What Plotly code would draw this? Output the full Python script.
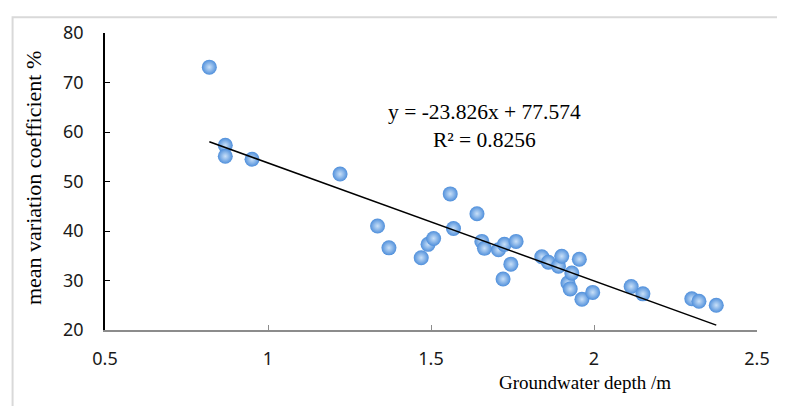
import plotly.graph_objects as go

# Data
depth = [0.820, 0.869, 0.869, 0.951, 1.221, 1.336, 1.371, 1.470, 1.491, 1.508,
         1.559, 1.569, 1.641, 1.656, 1.664, 1.707, 1.721, 1.725, 1.745, 1.761,
         1.840, 1.860, 1.891, 1.901, 1.920, 1.927, 1.932, 1.955, 1.963, 1.996,
         2.114, 2.150, 2.300, 2.322, 2.375]
cv = [73.1, 57.3, 55.1, 54.5, 51.5, 41.0, 36.6, 34.6, 37.3, 38.5,
      47.5, 40.5, 43.5, 37.9, 36.5, 36.2, 30.3, 37.3, 33.3, 37.9,
      34.8, 33.7, 32.9, 34.9, 29.5, 28.3, 31.5, 34.3, 26.2, 27.6,
      28.8, 27.3, 26.3, 25.8, 25.0]
slope = -23.826
intercept = 77.574
r2 = 0.8256

x_ticks = [0.5, 1, 1.5, 2, 2.5]
x_tick_text = ["0.5", "1", "1.5", "2", "2.5"]
y_ticks = [20, 30, 40, 50, 60, 70, 80]

# page body has an 8px default margin; compensate so the plot lands where the reference has it
OFF = 8
L, R, T, B = 104.5 - OFF, 785 - 757 + OFF, 30 - OFF, 406 - 330 + OFF
PW, PH = 757 - 104.5, 330 - 30

fig = go.Figure()

fig.add_trace(go.Scatter(
    x=depth, y=cv, mode="markers",
    marker=dict(size=15, color="#4f8fdb",
                gradient=dict(type="radial", color="#c9e0f8"),
                line=dict(width=0)),
    showlegend=False, hoverinfo="x+y"))

x_line = [min(depth), max(depth)]
y_line = [slope * v + intercept for v in x_line]
fig.add_trace(go.Scatter(
    x=x_line, y=y_line, mode="lines",
    line=dict(color="black", width=1.5),
    showlegend=False, hoverinfo="skip"))

tick_font = dict(family="Noto Sans, DejaVu Sans, sans-serif", size=18, color="#1a1a1a")
serif = "Liberation Serif, Times New Roman, serif"

fig.update_layout(
    width=785, height=406,
    margin=dict(l=L, r=R, t=T, b=B),
    paper_bgcolor="white", plot_bgcolor="white",
    xaxis=dict(range=[0.5, 2.5], tickvals=x_ticks, ticktext=x_tick_text,
               showgrid=False, zeroline=False,
               showline=True, linecolor="#8c8c8c", linewidth=1.5,
               ticks="inside", ticklen=5, tickcolor="#8c8c8c", tickwidth=1,
               tickfont=tick_font, ticklabelstandoff=12),
    yaxis=dict(range=[20, 80], tickvals=y_ticks,
               showgrid=False, zeroline=False,
               showline=True, linecolor="black", linewidth=1.5,
               ticks="inside", ticklen=5, tickcolor="black", tickwidth=1,
               tickfont=tick_font, ticklabelstandoff=16),
    annotations=[
        dict(text="y = -23.826x + 77.574<br>R² = " + str(r2),
             x=1.663, y=61.3, xref="x", yref="y", showarrow=False,
             xanchor="center", yanchor="middle",
             font=dict(family=serif, size=21.5, color="black"), align="center"),
        dict(text="mean variation coefficient %", textangle=-90,
             x=(33 - 104.5) / PW, y=(330 - 177) / PH, xref="paper", yref="paper",
             xanchor="center", yanchor="middle",
             showarrow=False, font=dict(family=serif, size=22, color="black")),
        dict(text="Groundwater depth /m",
             x=(585 - 104.5) / PW, y=-(383 - 330) / PH,
             xref="paper", yref="paper", showarrow=False,
             xanchor="center", yanchor="middle",
             font=dict(family=serif, size=19, color="black")),
    ],
    shapes=[dict(type="rect", xref="paper", yref="paper",
                 x0=(12 - 104.5) / PW, x1=(800 - 104.5) / PW,
                 y0=(330 - 420) / PH, y1=(330 - 14) / PH,
                 line=dict(color="#d9d9d9", width=2), layer="below")],
)

fig.write_html("out.html")
